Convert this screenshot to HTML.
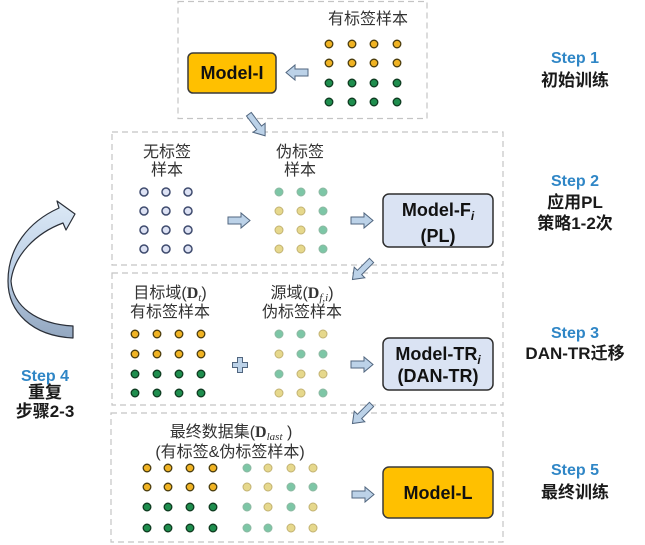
<!DOCTYPE html>
<html><head><meta charset="utf-8"><style>
html,body{margin:0;padding:0;background:#fff;}
svg{display:block;}
.cn{font-family:"Liberation Sans","Noto Sans CJK SC",sans-serif;}
</style></head><body>
<svg width="645" height="545" viewBox="0 0 645 545" xmlns="http://www.w3.org/2000/svg">
<defs>
<linearGradient id="cg" x1="0" y1="0" x2="0" y2="1">
<stop offset="0" stop-color="#DCE9F6"/>
<stop offset="0.5" stop-color="#BDD0E6"/>
<stop offset="1" stop-color="#93A7C0"/>
</linearGradient>
<path id="ra" d="M0,4 H13 V0 L22,7.5 L13,15 V11 H0 Z"/>
<path id="da" d="M0,4.5 H17 V0 L27,7.5 L17,15 V10.5 H0 Z"/>
</defs>

<!-- dashed boxes -->
<g fill="none" stroke="#C4C4C4" stroke-width="1.2" stroke-dasharray="6,4">
<rect x="178" y="1.5" width="249" height="117"/>
<rect x="112" y="132" width="391" height="133"/>
<rect x="112" y="273" width="391" height="132"/>
<rect x="111" y="413" width="392" height="129"/>
</g>

<!-- Box 1 -->
<text x="368" y="24" text-anchor="middle" font-size="16" fill="#333" class="cn">有标签样本</text>
<g stroke-width="1.3">
<g fill="#F0B323" stroke="#4A3C0E">
<circle cx="329" cy="44" r="3.8"/><circle cx="352" cy="44" r="3.8"/><circle cx="374" cy="44" r="3.8"/><circle cx="397" cy="44" r="3.8"/>
<circle cx="329" cy="63" r="3.8"/><circle cx="352" cy="63" r="3.8"/><circle cx="374" cy="63" r="3.8"/><circle cx="397" cy="63" r="3.8"/>
</g>
<g fill="#1F8E4E" stroke="#0E3A20">
<circle cx="329" cy="83" r="3.8"/><circle cx="352" cy="83" r="3.8"/><circle cx="374" cy="83" r="3.8"/><circle cx="397" cy="83" r="3.8"/>
<circle cx="329" cy="102" r="3.8"/><circle cx="352" cy="102" r="3.8"/><circle cx="374" cy="102" r="3.8"/><circle cx="397" cy="102" r="3.8"/>
</g>
</g>
<rect x="188" y="53" width="88" height="40" rx="5" fill="#FFC000" stroke="#3A3A3A" stroke-width="1.5"/>
<text x="232" y="79" text-anchor="middle" font-family="Liberation Sans, sans-serif" font-weight="bold" font-size="18" fill="#111">Model-I</text>

<g fill="#BCD2E8" stroke="#51667F" stroke-width="1">
<use href="#ra" transform="translate(308,65) scale(-1,1)"/>
<use href="#da" transform="translate(257,125) rotate(53) translate(-13.5,-7.5)"/>
<use href="#ra" transform="translate(228,213)"/>
<use href="#ra" transform="translate(351,213)"/>
<use href="#da" transform="translate(362,270) rotate(135) translate(-13.5,-7.5)"/>
<use href="#ra" transform="translate(351,357)"/>
<use href="#da" transform="translate(362,414) rotate(135) translate(-13.5,-7.5)"/>
<use href="#ra" transform="translate(352,487)"/>
<path d="M237.5,357.5 H242.5 V362.5 H247.5 V367.5 H242.5 V372.5 H237.5 V367.5 H232.5 V362.5 H237.5 Z"/>
</g>

<!-- Box 2 -->
<g class="cn" font-size="16" fill="#333" text-anchor="middle">
<text x="167" y="157">无标签</text>
<text x="167" y="175">样本</text>
<text x="300" y="157">伪标签</text>
<text x="300" y="175">样本</text>
</g>
<g fill="#DDE2F4" stroke="#3F4B6E" stroke-width="1.5">
<circle cx="144" cy="192" r="4"/><circle cx="166" cy="192" r="4"/><circle cx="188" cy="192" r="4"/>
<circle cx="144" cy="211" r="4"/><circle cx="166" cy="211" r="4"/><circle cx="188" cy="211" r="4"/>
<circle cx="144" cy="230" r="4"/><circle cx="166" cy="230" r="4"/><circle cx="188" cy="230" r="4"/>
<circle cx="144" cy="249" r="4"/><circle cx="166" cy="249" r="4"/><circle cx="188" cy="249" r="4"/>
</g>
<g stroke-width="1">
<g fill="#7DC6A6" stroke="#8DB9A2">
<circle cx="279" cy="192" r="4"/><circle cx="301" cy="192" r="4"/><circle cx="323" cy="192" r="4"/>
<circle cx="323" cy="211" r="4"/><circle cx="323" cy="230" r="4"/><circle cx="323" cy="249" r="4"/>
</g>
<g fill="#E6D88C" stroke="#C2B272">
<circle cx="279" cy="211" r="4"/><circle cx="301" cy="211" r="4"/>
<circle cx="279" cy="230" r="4"/><circle cx="301" cy="230" r="4"/>
<circle cx="279" cy="249" r="4"/><circle cx="301" cy="249" r="4"/>
</g>
</g>
<rect x="383" y="194" width="110" height="53" rx="6" fill="#DAE3F3" stroke="#2E2E2E" stroke-width="1.5"/>
<text x="438" y="216" text-anchor="middle" font-family="Liberation Sans, sans-serif" font-weight="bold" font-size="18" fill="#111">Model-F<tspan font-size="12" font-style="italic" dy="4">i</tspan></text>
<text x="438" y="242" text-anchor="middle" font-family="Liberation Sans, sans-serif" font-weight="bold" font-size="18" fill="#111">(PL)</text>

<!-- Box 3 -->
<g class="cn" font-size="16" fill="#333" text-anchor="middle">
<text x="170" y="298">目标域(<tspan font-family="Liberation Serif, serif" font-weight="bold">D</tspan><tspan font-family="Liberation Serif, serif" font-style="italic" font-size="11" dy="3">t</tspan><tspan dy="-3">)</tspan></text>
<text x="170" y="317">有标签样本</text>
<text x="302" y="298">源域(<tspan font-family="Liberation Serif, serif" font-weight="bold">D</tspan><tspan font-family="Liberation Serif, serif" font-style="italic" font-size="11" dy="3">f,i</tspan><tspan dy="-3">)</tspan></text>
<text x="302" y="317">伪标签样本</text>
</g>
<g stroke-width="1.3">
<g fill="#F0B323" stroke="#4A3C0E">
<circle cx="135" cy="334" r="3.8"/><circle cx="157" cy="334" r="3.8"/><circle cx="179" cy="334" r="3.8"/><circle cx="201" cy="334" r="3.8"/>
<circle cx="135" cy="354" r="3.8"/><circle cx="157" cy="354" r="3.8"/><circle cx="179" cy="354" r="3.8"/><circle cx="201" cy="354" r="3.8"/>
</g>
<g fill="#1F8E4E" stroke="#0E3A20">
<circle cx="135" cy="374" r="3.8"/><circle cx="157" cy="374" r="3.8"/><circle cx="179" cy="374" r="3.8"/><circle cx="201" cy="374" r="3.8"/>
<circle cx="135" cy="393" r="3.8"/><circle cx="157" cy="393" r="3.8"/><circle cx="179" cy="393" r="3.8"/><circle cx="201" cy="393" r="3.8"/>
</g>
</g>
<g stroke-width="1">
<g fill="#7DC6A6" stroke="#8DB9A2">
<circle cx="279" cy="334" r="4"/><circle cx="301" cy="334" r="4"/>
<circle cx="301" cy="354" r="4"/><circle cx="323" cy="354" r="4"/>
<circle cx="279" cy="374" r="4"/>
<circle cx="323" cy="393" r="4"/>
</g>
<g fill="#E6D88C" stroke="#C2B272">
<circle cx="323" cy="334" r="4"/>
<circle cx="279" cy="354" r="4"/>
<circle cx="301" cy="374" r="4"/><circle cx="323" cy="374" r="4"/>
<circle cx="279" cy="393" r="4"/><circle cx="301" cy="393" r="4"/>
</g>
</g>
<rect x="383" y="338" width="110" height="52" rx="6" fill="#DAE3F3" stroke="#2E2E2E" stroke-width="1.5"/>
<text x="438" y="360" text-anchor="middle" font-family="Liberation Sans, sans-serif" font-weight="bold" font-size="18" fill="#111">Model-TR<tspan font-size="12" font-style="italic" dy="4">i</tspan></text>
<text x="438" y="382" text-anchor="middle" font-family="Liberation Sans, sans-serif" font-weight="bold" font-size="18" fill="#111">(DAN-TR)</text>

<!-- Box 4 -->
<g class="cn" font-size="16" fill="#333" text-anchor="middle">
<text x="231" y="437">最终数据集(<tspan font-family="Liberation Serif, serif" font-weight="bold">D</tspan><tspan font-family="Liberation Serif, serif" font-style="italic" font-size="11" dy="3">last</tspan><tspan dy="-3"> )</tspan></text>
<text x="230" y="457">(有标签&amp;伪标签样本)</text>
</g>
<g stroke-width="1.3">
<g fill="#F0B323" stroke="#4A3C0E">
<circle cx="147" cy="468" r="3.8"/><circle cx="168" cy="468" r="3.8"/><circle cx="190" cy="468" r="3.8"/><circle cx="213" cy="468" r="3.8"/>
<circle cx="147" cy="487" r="3.8"/><circle cx="168" cy="487" r="3.8"/><circle cx="190" cy="487" r="3.8"/><circle cx="213" cy="487" r="3.8"/>
</g>
<g fill="#1F8E4E" stroke="#0E3A20">
<circle cx="147" cy="507" r="3.8"/><circle cx="168" cy="507" r="3.8"/><circle cx="190" cy="507" r="3.8"/><circle cx="213" cy="507" r="3.8"/>
<circle cx="147" cy="528" r="3.8"/><circle cx="168" cy="528" r="3.8"/><circle cx="190" cy="528" r="3.8"/><circle cx="213" cy="528" r="3.8"/>
</g>
</g>
<g stroke-width="1">
<g fill="#7DC6A6" stroke="#8DB9A2">
<circle cx="247" cy="468" r="4"/>
<circle cx="291" cy="487" r="4"/><circle cx="313" cy="487" r="4"/>
<circle cx="247" cy="507" r="4"/><circle cx="291" cy="507" r="4"/>
<circle cx="247" cy="528" r="4"/><circle cx="268" cy="528" r="4"/>
</g>
<g fill="#E6D88C" stroke="#C2B272">
<circle cx="268" cy="468" r="4"/><circle cx="291" cy="468" r="4"/><circle cx="313" cy="468" r="4"/>
<circle cx="247" cy="487" r="4"/><circle cx="268" cy="487" r="4"/>
<circle cx="268" cy="507" r="4"/><circle cx="313" cy="507" r="4"/>
<circle cx="291" cy="528" r="4"/><circle cx="313" cy="528" r="4"/>
</g>
</g>
<rect x="383" y="467" width="110" height="51" rx="6" fill="#FFC000" stroke="#3A3A3A" stroke-width="1.5"/>
<text x="438" y="499" text-anchor="middle" font-family="Liberation Sans, sans-serif" font-weight="bold" font-size="18" fill="#111">Model-L</text>

<!-- Step labels -->
<g text-anchor="middle" font-weight="bold" class="cn">
<text x="575" y="63" font-size="16" fill="#2F86C6">Step 1</text>
<text x="575" y="86" font-size="17" fill="#1A1A1A">初始训练</text>
<text x="575" y="186" font-size="16" fill="#2F86C6">Step 2</text>
<text x="575" y="208" font-size="17" fill="#1A1A1A">应用PL</text>
<text x="575" y="229" font-size="17" fill="#1A1A1A">策略1-2次</text>
<text x="575" y="338" font-size="16" fill="#2F86C6">Step 3</text>
<text x="575" y="359" font-size="17" fill="#1A1A1A">DAN-TR迁移</text>
<text x="575" y="475" font-size="16" fill="#2F86C6">Step 5</text>
<text x="575" y="498" font-size="17" fill="#1A1A1A">最终训练</text>
<text x="45" y="381" font-size="16" fill="#2F86C6">Step 4</text>
<text x="45" y="398" font-size="17" fill="#1A1A1A">重复</text>
<text x="45" y="417" font-size="17" fill="#1A1A1A">步骤2-3</text>
</g>

<!-- curved arrow -->
<path d="M73,326 L73,338 C32,336 8,312 8,281 C8,248 28,222 59,208 L57,201 L75,214 L66,230 L63,223 C36,233 14,255 11,281 C13,306 36,324 73,326 Z" fill="url(#cg)" stroke="#2A2F38" stroke-width="1.2" stroke-linejoin="round"/>
</svg>
</body></html>
